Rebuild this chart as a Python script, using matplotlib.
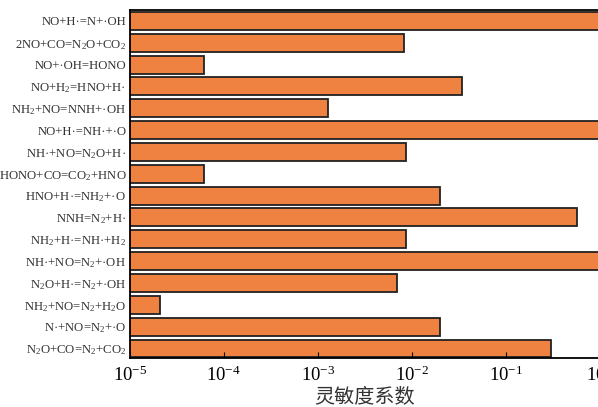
import numpy as np
import matplotlib
matplotlib.use("Agg")
import matplotlib.pyplot as plt

plt.rcParams['font.family'] = ['Liberation Serif', 'DejaVu Serif']
plt.rcParams['mathtext.fontset'] = 'custom'
plt.rcParams['mathtext.rm'] = 'Liberation Serif'
plt.rcParams['mathtext.it'] = 'Liberation Serif:italic'
plt.rcParams['mathtext.bf'] = 'Liberation Serif:bold'

# reactions, top to bottom
reactions = [
    "NO+H·=N+·OH",
    "2NO+CO=N$_2$O+CO$_2$",
    "NO+·OH=HONO",
    "NO+H$_2$=HNO+H·",
    "NH$_2$+NO=NNH+·OH",
    "NO+H·=NH·+·O",
    "NH·+NO=N$_2$O+H·",
    "HONO+CO=CO$_2$+HNO",
    "HNO+H·=NH$_2$+·O",
    "NNH=N$_2$+H·",
    "NH$_2$+H·=NH·+H$_2$",
    "NH·+NO=N$_2$+·OH",
    "N$_2$O+H·=N$_2$+·OH",
    "NH$_2$+NO=N$_2$+H$_2$O",
    "N·+NO=N$_2$+·O",
    "N$_2$O+CO=N$_2$+CO$_2$",
]
# sensitivity coefficients
sensitivity = [1.0, 0.0083, 6.1e-5, 0.034, 0.0013, 1.0, 0.0088, 6.1e-5,
               0.020, 0.58, 0.0088, 1.0, 0.0070, 2.1e-5, 0.020, 0.30]

fig = plt.figure(figsize=(5.98, 4.07), dpi=100)
ax = fig.add_axes([0.2169, 0.1197, 0.7859, 0.8557])

y = np.arange(len(reactions))
ax.barh(y, sensitivity, height=0.82, color='#EF8240', edgecolor='#222222',
        linewidth=1.3)

ax.set_xscale('log')
ax.set_xlim(1e-5, 1)
ax.set_ylim(15.45, -0.5)
ax.set_yticks(y)
ax.set_yticklabels(reactions, fontsize=9.2, color='#333333')
ax.tick_params(axis='y', length=0, pad=2.5)
ax.tick_params(axis='x', which='major', direction='in', length=4,
               labelsize=13.5, pad=5)
ax.minorticks_off()
ax.set_xticks([1e-5, 1e-4, 1e-3, 1e-2, 1e-1, 1])
for s in ax.spines.values():
    s.set_linewidth(1.3)

ax.set_xlabel("灵敏度系数", fontsize=14.5, family=['Noto Sans CJK SC', 'DejaVu Sans'],
              color='#333333', labelpad=2)

fig.savefig("out.png", dpi=100)
